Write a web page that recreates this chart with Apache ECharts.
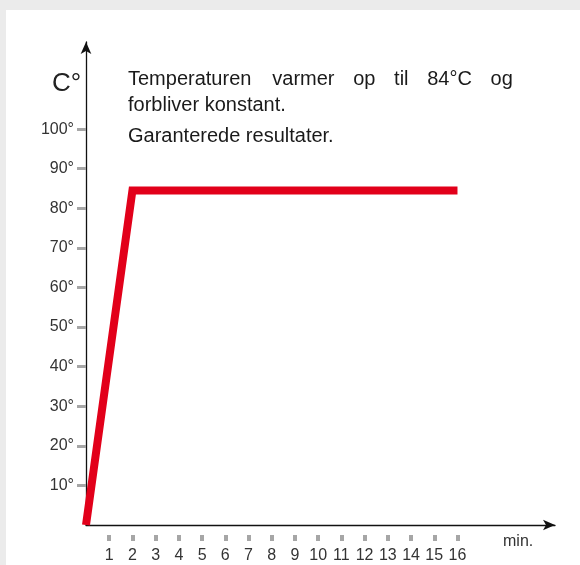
<!DOCTYPE html>
<html>
<head>
<meta charset="utf-8">
<script src="https://cdn.jsdelivr.net/npm/echarts@6/dist/echarts.min.js"></script>
<style>
html,body{margin:0;padding:0;background:#ebebeb;}
#c{width:580px;height:565px;}
</style>
</head>
<body>
<div id="c"></div>
<script>
// Data
var timeMinutes = [0, 2, 16];
var temperatures = [0, 84.5, 84.5];
var xTickValues = [1,2,3,4,5,6,7,8,9,10,11,12,13,14,15,16];
var yTickValues = [10,20,30,40,50,60,70,80,90,100];
var yUnitLabel = 'C°';
var xUnitLabel = 'min.';
var headingLine1Words = ['Temperaturen', 'varmer', 'op', 'til', '84°C', 'og'];
var headingLine2 = 'forbliver konstant.';
var headingLine3 = 'Garanterede resultater.';

var FONT = '"Liberation Sans", Arial, sans-serif';
var chart = echarts.init(document.getElementById('c'), null, {renderer: 'canvas'});

var seriesData = timeMinutes.map(function (t, i) { return [t, temperatures[i]]; });

// justified first heading line (left edges of words)
var wordX = [128, 272.3, 353.2, 394.1, 427.2, 490.6];
var graphics = [
  {type: 'rect', z: -10, silent: true, shape: {x: 6, y: 10, width: 580, height: 560}, style: {fill: '#ffffff'}},
  {type: 'text', left: 52, top: 71, style: {text: yUnitLabel, font: '300 26px ' + FONT, fill: '#222'}},
  {type: 'text', left: 503, top: 534, style: {text: xUnitLabel, font: '16px ' + FONT, fill: '#333'}},
  {type: 'text', left: 128, top: 95, style: {text: headingLine2, font: '20px ' + FONT, fill: '#1a1a1a'}},
  {type: 'text', left: 128, top: 126, style: {text: headingLine3, font: '20px ' + FONT, fill: '#1a1a1a'}}
];
headingLine1Words.forEach(function (w, i) {
  graphics.push({type: 'text', left: wordX[i], top: 69, style: {text: w, font: '20px ' + FONT, fill: '#1a1a1a'}});
});

chart.setOption({
  backgroundColor: '#ebebeb',
  animation: false,
  grid: {left: 86, right: 25, top: 42, bottom: 40, containLabel: false},
  xAxis: [
    {
      type: 'value', min: 0, max: 20.2, position: 'bottom',
      axisLine: {show: true, symbol: ['none', 'arrow'], symbolSize: [8, 12], lineStyle: {color: '#111', width: 1.3}},
      axisTick: {show: false}, axisLabel: {show: false}, splitLine: {show: false}
    },
    {
      type: 'value', min: 0, max: 20.2, position: 'bottom', offset: 10,
      axisLine: {show: false},
      axisTick: {show: true, customValues: xTickValues, length: 6, lineStyle: {color: '#a6a6a6', width: 4}},
      axisLabel: {show: true, customValues: xTickValues, margin: 13, fontSize: 16, fontFamily: FONT, color: '#333'},
      splitLine: {show: false}
    }
  ],
  yAxis: {
    type: 'value', min: 0, max: 122,
    axisLine: {show: true, symbol: ['none', 'arrow'], symbolSize: [8, 12], lineStyle: {color: '#111', width: 1.3}},
    axisTick: {show: true, customValues: yTickValues, length: 9, lineStyle: {color: '#a6a6a6', width: 3}},
    axisLabel: {show: true, customValues: yTickValues, margin: 12, fontSize: 16, fontFamily: FONT, color: '#333',
      formatter: function (v) { return v + '°'; }},
    splitLine: {show: false}
  },
  graphic: graphics,
  series: [{
    type: 'line', xAxisIndex: 0, data: seriesData, showSymbol: false, symbol: 'none',
    lineStyle: {color: '#e2001a', width: 8, cap: 'butt', join: 'miter'}
  }]
});
</script>
</body>
</html>
